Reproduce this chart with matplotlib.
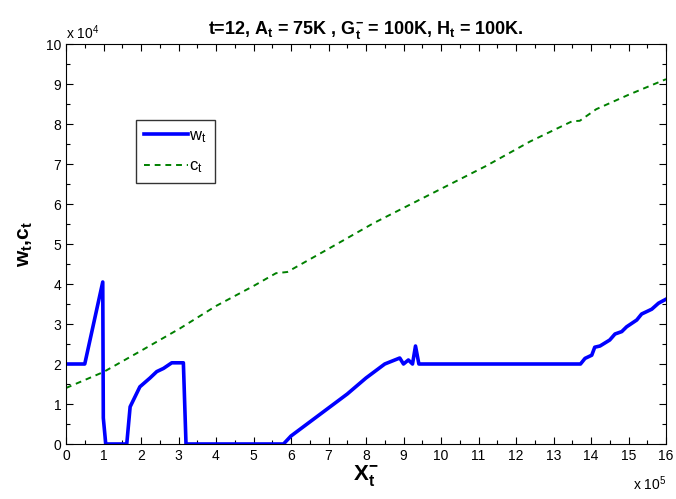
import matplotlib
matplotlib.use("Agg")
import matplotlib.pyplot as plt
from matplotlib.ticker import AutoMinorLocator

plt.rcParams['font.family'] = ['Liberation Sans', 'DejaVu Sans']
plt.rcParams['mathtext.fontset'] = 'custom'
plt.rcParams['mathtext.rm'] = 'Liberation Sans'
plt.rcParams['mathtext.bf'] = 'Liberation Sans:bold'
plt.rcParams['mathtext.it'] = 'Liberation Sans:italic'

# x in units of 1e5, y in units of 1e4
w_x = [0.0, 0.5, 0.98, 0.995, 1.06, 1.62, 1.71, 1.97, 2.24, 2.42, 2.6, 2.82,
       3.13, 3.2, 5.8, 6.0, 6.5, 7.0, 7.5, 8.0, 8.5, 8.9, 9.0, 9.13, 9.24,
       9.32, 9.41, 13.72, 13.84, 14.02, 14.1, 14.24, 14.5, 14.64, 14.82,
       14.95, 15.22, 15.35, 15.62, 15.8, 16.0]
w_y = [2.0, 2.0, 4.05, 0.65, 0.0, 0.0, 0.93, 1.43, 1.65, 1.81, 1.89, 2.03,
       2.03, 0.0, 0.0, 0.2, 0.55, 0.9, 1.25, 1.65, 2.0, 2.15, 2.0, 2.1, 2.0,
       2.45, 2.0, 2.0, 2.14, 2.22, 2.42, 2.45, 2.6, 2.75, 2.81,
       2.93, 3.1, 3.25, 3.37, 3.52, 3.62]

c_x = [0, 1, 2, 3.04, 4, 5, 5.6, 5.9, 7, 8.2, 9.5, 11.2, 12.37, 13.5, 13.7,
       14.14, 15, 16]
c_y = [1.4, 1.8, 2.33, 2.89, 3.45, 3.95, 4.27, 4.3, 4.88, 5.52, 6.14, 6.95,
       7.56, 8.07, 8.08, 8.37, 8.73, 9.12]

fig = plt.figure(figsize=(6.76, 4.99), dpi=100)
ax = fig.add_axes([66/676, 55/499, 600/676, 400/499])

ax.plot(w_x, w_y, color='#0000ff', lw=2.6, label=r'w$_\mathregular{t}$')
ax.plot(c_x, c_y, color='#008000', lw=1.4, ls=(0, (3, 2.5)), label=r'c$_\mathregular{t}$')

ax.set_xlim(0, 16)
ax.set_ylim(0, 10)
ax.set_xticks(range(0, 17))
ax.set_yticks(range(0, 11))
ax.xaxis.set_minor_locator(AutoMinorLocator(2))
ax.yaxis.set_minor_locator(AutoMinorLocator(2))
ax.tick_params(which='both', direction='in', top=True, right=True, labelsize=10, width=0.8)
ax.tick_params(which='major', length=5)
ax.tick_params(which='minor', length=3)

ax.text(0, 1.005, r'x 10$^\mathregular{4}$', transform=ax.transAxes, fontsize=10, va='bottom')
ax.text(1.0, -0.075, r'x 10$^\mathregular{5}$', transform=ax.transAxes, fontsize=10, ha='right', va='top')

ax.set_title(r't=12, A$_\mathbf{t}$ = 75K , G$^\mathbf{-}_\mathbf{t}$ = 100K, H$_\mathbf{t}$ = 100K.',
             fontsize=13, fontweight='bold', pad=7)
ax.set_xlabel(r'X$^\mathbf{-}_\mathbf{t}$', fontsize=16, fontweight='bold', labelpad=0)
ax.set_ylabel(r'w$_\mathbf{t}$,c$_\mathbf{t}$', fontsize=15, fontweight='bold', labelpad=8)

leg = ax.legend(loc='upper left', bbox_to_anchor=(70/600, 1 - 76/400), borderaxespad=0,
                frameon=True, fancybox=False, edgecolor='black', fontsize=12,
                handlelength=2.6, borderpad=0.5, labelspacing=0.8, handletextpad=0.1)
leg.get_frame().set_linewidth(1.0)

fig.savefig('out.png', dpi=100)
